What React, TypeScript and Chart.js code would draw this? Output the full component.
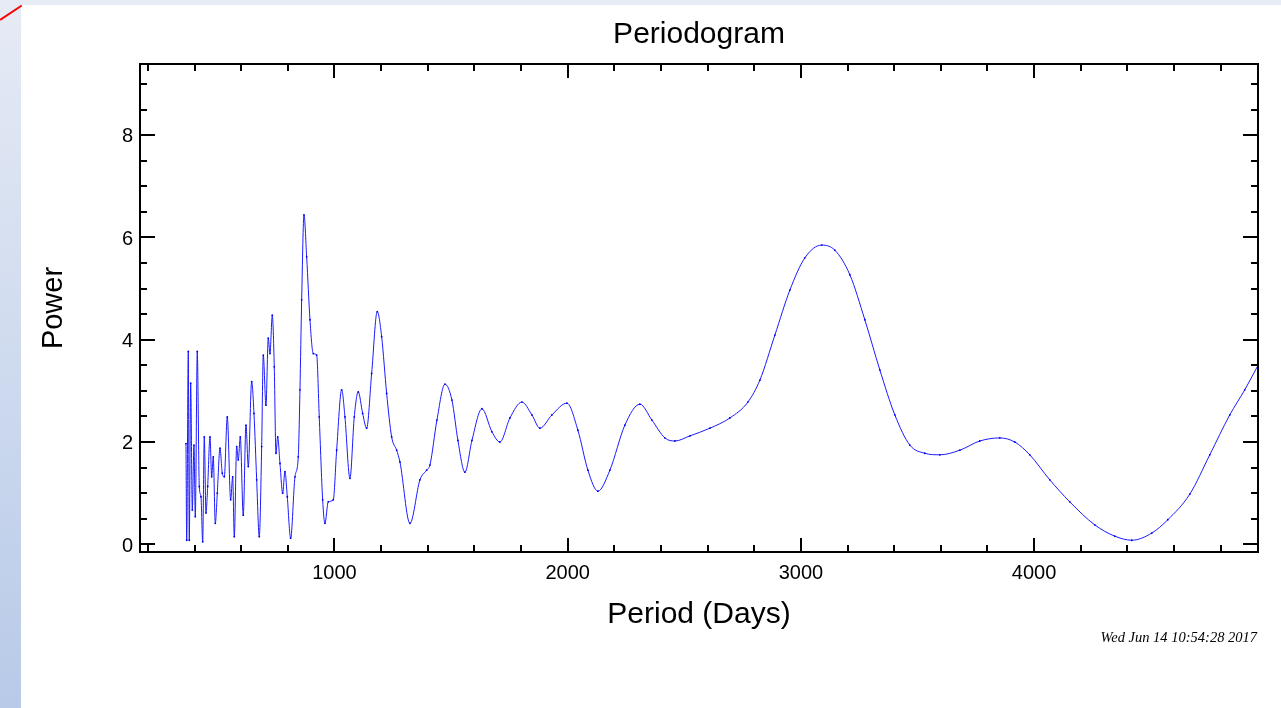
import React, { useEffect, useRef } from "react";
import { Chart, registerables } from "chart.js";

Chart.register(...registerables);

const TITLE = "Periodogram";
const X_TITLE = "Period (Days)";
const Y_TITLE = "Power";
const TIMESTAMP = "Wed Jun 14 10:54:28 2017";

const X_MAJOR = [1000, 2000, 3000, 4000];
const Y_MAJOR = [0, 2, 4, 6, 8];
const X_MINOR_STEP = 200;
const Y_MINOR_STEP = 0.5;

const X_MIN = 166.2;
const X_MAX = 4960;
const Y_MIN = -0.15;
const Y_MAX = 9.39;

// Period (days)
const PERIOD = [
  363.4, 366.4, 373.3, 377.5, 383.5, 390.4, 397.7, 403.3, 411.8, 420.4,
  427.7, 435.0, 441.8, 449.1, 456.4, 466.3, 473.6, 480.4, 489.0, 497.6,
  509.2, 519.0, 527.6, 540.4, 555.0, 563.6, 570.5, 580.7, 587.6, 596.2,
  609.0, 620.6, 630.5, 645.0, 654.9, 666.5, 677.6, 687.9, 694.8, 706.3,
  716.2, 723.5, 733.4, 741.9, 749.2, 756.5, 766.4, 777.9, 787.8, 797.7,
  812.2, 830.7, 844.8, 852.1, 859.4, 869.3, 880.8, 895.0, 909.1, 923.7,
  934.8, 949.4, 959.3, 973.4, 994.9, 1009.4, 1030.9, 1045.0, 1066.4, 1084.9,
  1102.0, 1120.9, 1138.0, 1159.5, 1183.5, 1202.3, 1223.8, 1245.2, 1266.6, 1280.8,
  1323.7, 1366.5, 1395.3, 1409.4, 1439.4, 1473.7, 1503.7, 1529.4, 1559.4, 1589.5,
  1632.3, 1675.2, 1709.5, 1752.4, 1803.8, 1846.7, 1881.0, 1932.4, 1996.7, 2043.9,
  2086.7, 2129.6, 2181.0, 2245.3, 2309.7, 2361.1, 2416.8, 2459.7, 2524.0, 2609.7,
  2695.5, 2772.6, 2824.1, 2888.4, 2952.7, 3017.0, 3089.9, 3145.6, 3209.9, 3274.2,
  3338.5, 3402.8, 3467.1, 3531.4, 3595.7, 3681.5, 3767.2, 3852.9, 3917.2, 3981.5,
  4067.3, 4153.0, 4260.2, 4345.9, 4418.8, 4504.5, 4573.1, 4667.4, 4753.2, 4838.9,
  4903.2, 4959.0,
];

// Power
const POWER = [
  1.97, 0.08, 3.77, 0.08, 3.15, 0.67, 1.94, 0.54, 3.77, 1.13,
  0.93, 0.05, 2.10, 0.61, 1.13, 2.10, 1.32, 1.71, 0.41, 1.00,
  1.88, 1.39, 1.32, 2.49, 0.87, 1.32, 0.15, 1.91, 1.65, 2.10,
  0.57, 2.33, 1.52, 3.18, 2.56, 1.26, 0.15, 1.91, 3.70, 2.72,
  4.03, 3.73, 4.48, 3.47, 1.78, 2.10, 1.58, 1.00, 1.42, 0.93,
  0.12, 1.32, 1.71, 3.02, 4.78, 6.44, 5.62, 4.39, 3.73, 3.70,
  2.49, 0.87, 0.41, 0.83, 0.87, 1.84, 3.02, 2.49, 1.29, 2.49,
  2.98, 2.56, 2.27, 3.34, 4.55, 4.06, 2.95, 2.10, 1.84, 1.61,
  0.41, 1.26, 1.45, 1.55, 2.43, 3.13, 2.82, 2.03, 1.41, 2.03,
  2.65, 2.20, 2.00, 2.47, 2.78, 2.53, 2.27, 2.53, 2.76, 2.23,
  1.45, 1.04, 1.45, 2.33, 2.74, 2.43, 2.08, 2.02, 2.12, 2.27,
  2.47, 2.78, 3.21, 4.09, 4.97, 5.60, 5.85, 5.75, 5.27, 4.39,
  3.41, 2.53, 1.94, 1.78, 1.75, 1.84, 2.02, 2.08, 2.00, 1.75,
  1.26, 0.83, 0.38, 0.16, 0.08, 0.22, 0.48, 0.98, 1.75, 2.53,
  3.02, 3.49,
];

const FONT_SANS = "'Liberation Sans', Arial, Helvetica, sans-serif";

function ticksBetween(min: number, max: number, step: number): number[] {
  const out: number[] = [];
  const start = Math.ceil(min / step) * step;
  for (let v = start; v <= max + 1e-9; v += step) out.push(Math.round(v * 1000) / 1000);
  return out;
}

const framePlugin = {
  id: "idlFrame",
  afterDraw(chart: any) {
    const { ctx, chartArea, scales } = chart;
    const { left, top, right, bottom } = chartArea;
    const xs = scales.x;
    const ys = scales.y;
    ctx.save();
    ctx.strokeStyle = "#000";
    ctx.lineWidth = 2;
    ctx.lineCap = "butt";
    ctx.strokeRect(left, top, right - left, bottom - top);

    ctx.beginPath();
    for (const v of ticksBetween(X_MIN, X_MAX, X_MINOR_STEP)) {
      const major = X_MAJOR.includes(v);
      const len = major ? 14 : 7;
      const px = Math.round(xs.getPixelForValue(v));
      ctx.moveTo(px, bottom);
      ctx.lineTo(px, bottom - len);
      ctx.moveTo(px, top);
      ctx.lineTo(px, top + len);
    }
    for (const v of ticksBetween(Y_MIN, Y_MAX, Y_MINOR_STEP)) {
      const major = Y_MAJOR.includes(v);
      const len = major ? 15 : 7;
      const py = Math.round(ys.getPixelForValue(v));
      ctx.moveTo(left, py);
      ctx.lineTo(left + len, py);
      ctx.moveTo(right, py);
      ctx.lineTo(right - len, py);
    }
    ctx.stroke();

    ctx.fillStyle = "#000";
    ctx.textBaseline = "alphabetic";

    ctx.font = `20px ${FONT_SANS}`;
    ctx.textAlign = "center";
    for (const v of X_MAJOR) {
      ctx.fillText(String(v), xs.getPixelForValue(v), bottom + 27);
    }
    ctx.textAlign = "right";
    for (const v of Y_MAJOR) {
      ctx.fillText(String(v), left - 7, ys.getPixelForValue(v) + 7.2);
    }

    const cx = (left + right) / 2;
    ctx.textAlign = "center";
    ctx.font = `30px ${FONT_SANS}`;
    ctx.fillText(TITLE, cx, 43);
    ctx.fillText(X_TITLE, cx, bottom + 71);

    ctx.save();
    ctx.translate(62, (top + bottom) / 2);
    ctx.rotate(-Math.PI / 2);
    ctx.font = `29px ${FONT_SANS}`;
    ctx.fillText(Y_TITLE, 0, 0);
    ctx.restore();

    ctx.textAlign = "right";
    ctx.font = `italic 14.5px 'Liberation Serif', 'Times New Roman', serif`;
    ctx.fillText(TIMESTAMP, right - 1, 642);
    ctx.restore();
  },
};

export default function App() {
  const canvasRef = useRef<HTMLCanvasElement | null>(null);

  useEffect(() => {
    const canvas = canvasRef.current;
    if (!canvas) return;
    const data = PERIOD.map((p, i) => ({ x: p, y: POWER[i] }));
    const chart = new Chart(canvas, {
      type: "line",
      data: {
        datasets: [
          {
            data,
            borderColor: "#1a1aff",
            borderWidth: 1,
            pointRadius: 0.9,
            pointBorderWidth: 0,
            pointBackgroundColor: "#0000ee",
            cubicInterpolationMode: "monotone",
            fill: false,
          },
        ],
      },
      options: {
        animation: false,
        responsive: false,
        devicePixelRatio: 1,
        layout: { padding: { left: 140, top: 64, right: 1281 - 1258, bottom: 708 - 552 } },
        plugins: { legend: { display: false }, title: { display: false }, tooltip: { enabled: false } },
        events: [],
        scales: {
          x: { type: "linear", min: X_MIN, max: X_MAX, display: false },
          y: { type: "linear", min: Y_MIN, max: Y_MAX, display: false },
        },
      },
      plugins: [framePlugin],
    });
    return () => chart.destroy();
  }, []);

  return (
    <div
      style={{
        position: "absolute",
        left: 0,
        top: 0,
        width: 1281,
        height: 708,
        background: "#ffffff",
        overflow: "hidden",
      }}
    >
      <div
        style={{
          position: "absolute",
          left: 0,
          top: 0,
          width: 1281,
          height: 5,
          background: "#e8ecf5",
        }}
      />
      <div
        style={{
          position: "absolute",
          left: 0,
          top: 0,
          width: 21,
          height: 708,
          background: "linear-gradient(to bottom, #e6ebf5, #b8cae8)",
        }}
      />
      <div
        style={{
          position: "absolute",
          left: 0,
          top: 19,
          width: 26,
          height: 1.5,
          background: "#ff0000",
          transformOrigin: "0 50%",
          transform: "rotate(-33.7deg)",
        }}
      />
      <canvas
        ref={canvasRef}
        width={1281}
        height={708}
        style={{ position: "absolute", left: 0, top: 0, width: 1281, height: 708 }}
      />
    </div>
  );
}
